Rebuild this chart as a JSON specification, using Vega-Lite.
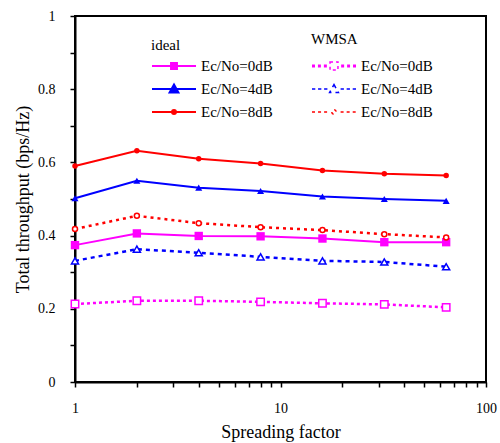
{
  "$schema": "https://vega.github.io/schema/vega-lite/v6.json",
  "width": 411,
  "height": 366,
  "autosize": {"type": "none"},
  "padding": {"left": 75, "top": 16, "right": 14, "bottom": 61},
  "background": "white",
  "config": {
    "view": {"stroke": "black", "strokeWidth": 2},
    "font": "Liberation Serif",
    "axis": {"grid": false, "domain": true, "domainColor": "black", "domainWidth": 2, "zindex": 1, "ticks": true, "tickColor": "black", "tickWidth": 1.5, "tickOpacity": 1, "labelColor": "black", "titleColor": "black", "labelFont": "Liberation Serif", "titleFont": "Liberation Serif", "labelFontSize": 14, "titleFontSize": 18, "titleFontWeight": "normal"},
    "legend": {"labelFont": "Liberation Serif", "titleFont": "Liberation Serif", "labelFontSize": 15, "titleFontSize": 15, "titleFontWeight": "normal", "labelColor": "black", "titleColor": "black"}
  },
  "data": {"values": [
    {"method": "ideal", "snr": "Ec/No=0dB", "sf": 1, "tp": 0.374},
    {"method": "ideal", "snr": "Ec/No=0dB", "sf": 2, "tp": 0.406},
    {"method": "ideal", "snr": "Ec/No=0dB", "sf": 4, "tp": 0.399},
    {"method": "ideal", "snr": "Ec/No=0dB", "sf": 8, "tp": 0.398},
    {"method": "ideal", "snr": "Ec/No=0dB", "sf": 16, "tp": 0.392},
    {"method": "ideal", "snr": "Ec/No=0dB", "sf": 32, "tp": 0.382},
    {"method": "ideal", "snr": "Ec/No=0dB", "sf": 64, "tp": 0.382},
    {"method": "ideal", "snr": "Ec/No=4dB", "sf": 1, "tp": 0.502},
    {"method": "ideal", "snr": "Ec/No=4dB", "sf": 2, "tp": 0.550},
    {"method": "ideal", "snr": "Ec/No=4dB", "sf": 4, "tp": 0.531},
    {"method": "ideal", "snr": "Ec/No=4dB", "sf": 8, "tp": 0.522},
    {"method": "ideal", "snr": "Ec/No=4dB", "sf": 16, "tp": 0.507},
    {"method": "ideal", "snr": "Ec/No=4dB", "sf": 32, "tp": 0.500},
    {"method": "ideal", "snr": "Ec/No=4dB", "sf": 64, "tp": 0.495},
    {"method": "ideal", "snr": "Ec/No=8dB", "sf": 1, "tp": 0.590},
    {"method": "ideal", "snr": "Ec/No=8dB", "sf": 2, "tp": 0.632},
    {"method": "ideal", "snr": "Ec/No=8dB", "sf": 4, "tp": 0.610},
    {"method": "ideal", "snr": "Ec/No=8dB", "sf": 8, "tp": 0.597},
    {"method": "ideal", "snr": "Ec/No=8dB", "sf": 16, "tp": 0.578},
    {"method": "ideal", "snr": "Ec/No=8dB", "sf": 32, "tp": 0.569},
    {"method": "ideal", "snr": "Ec/No=8dB", "sf": 64, "tp": 0.564},
    {"method": "WMSA", "snr": "Ec/No=0dB", "sf": 1, "tp": 0.213},
    {"method": "WMSA", "snr": "Ec/No=0dB", "sf": 2, "tp": 0.222},
    {"method": "WMSA", "snr": "Ec/No=0dB", "sf": 4, "tp": 0.222},
    {"method": "WMSA", "snr": "Ec/No=0dB", "sf": 8, "tp": 0.219},
    {"method": "WMSA", "snr": "Ec/No=0dB", "sf": 16, "tp": 0.215},
    {"method": "WMSA", "snr": "Ec/No=0dB", "sf": 32, "tp": 0.212},
    {"method": "WMSA", "snr": "Ec/No=0dB", "sf": 64, "tp": 0.204},
    {"method": "WMSA", "snr": "Ec/No=4dB", "sf": 1, "tp": 0.331},
    {"method": "WMSA", "snr": "Ec/No=4dB", "sf": 2, "tp": 0.363},
    {"method": "WMSA", "snr": "Ec/No=4dB", "sf": 4, "tp": 0.353},
    {"method": "WMSA", "snr": "Ec/No=4dB", "sf": 8, "tp": 0.342},
    {"method": "WMSA", "snr": "Ec/No=4dB", "sf": 16, "tp": 0.331},
    {"method": "WMSA", "snr": "Ec/No=4dB", "sf": 32, "tp": 0.328},
    {"method": "WMSA", "snr": "Ec/No=4dB", "sf": 64, "tp": 0.315},
    {"method": "WMSA", "snr": "Ec/No=8dB", "sf": 1, "tp": 0.418},
    {"method": "WMSA", "snr": "Ec/No=8dB", "sf": 2, "tp": 0.454},
    {"method": "WMSA", "snr": "Ec/No=8dB", "sf": 4, "tp": 0.434},
    {"method": "WMSA", "snr": "Ec/No=8dB", "sf": 8, "tp": 0.423},
    {"method": "WMSA", "snr": "Ec/No=8dB", "sf": 16, "tp": 0.415},
    {"method": "WMSA", "snr": "Ec/No=8dB", "sf": 32, "tp": 0.404},
    {"method": "WMSA", "snr": "Ec/No=8dB", "sf": 64, "tp": 0.395}
  ]},
  "encoding": {
    "x": {"field": "sf", "type": "quantitative",
      "scale": {"type": "log", "domain": [1, 100], "nice": false},
      "axis": {"title": "Spreading factor", "values": [1,2,3,4,5,6,7,8,9,10,20,30,40,50,60,70,80,90,100], "labelExpr": "(datum.value == 1 || datum.value == 10 || datum.value == 100) ? format(datum.value, 'd') : ''", "tickSize": 5, "labelPadding": 14, "titlePadding": 8, "labelFlush": false, "labelOverlap": false}},
    "y": {"field": "tp", "type": "quantitative",
      "scale": {"domain": [0, 1], "nice": false},
      "axis": {"title": "Total throughput (bps/Hz)", "values": [0,0.1,0.2,0.3,0.4,0.5,0.6,0.7,0.8,0.9,1], "labelExpr": "(round(datum.value*10) % 2 == 0) ? format(datum.value, '~g') : ''", "tickSize": 5, "labelPadding": 15, "titlePadding": 5, "labelFlush": false, "labelOverlap": false}}
  },
  "layer": [
    {
      "transform": [{"filter": "datum.method === 'ideal'"}],
      "encoding": {
        "color": {"field": "snr", "type": "nominal", "scale": {"domain": ["Ec/No=0dB", "Ec/No=4dB", "Ec/No=8dB"], "range": ["#ff00ff", "#0000ff", "#ff0000"]},
          "legend": {"title": "ideal", "orient": "none", "legendX": 76, "legendY": 22, "titlePadding": 1, "symbolSize": 484, "labelOffset": 26, "rowPadding": 3, "symbolStrokeWidth": 2, "symbolOpacity": 1}}
      },
      "layer": [
        {"mark": {"type": "line", "strokeWidth": 2}},
        {"transform": [{"filter": "datum.snr === 'Ec/No=0dB'"}],
          "mark": {"type": "point", "shape": "square", "filled": true, "opacity": 1, "size": 70}},
        {"transform": [{"filter": "datum.snr === 'Ec/No=4dB'"}],
          "mark": {"type": "point", "shape": "triangle-up", "filled": true, "opacity": 1, "size": 50}},
        {"transform": [{"filter": "datum.snr === 'Ec/No=8dB'"}],
          "mark": {"type": "point", "shape": "circle", "filled": true, "opacity": 1, "size": 30}},
        {"transform": [{"filter": "false"}],
          "mark": {"type": "point", "filled": false, "opacity": 1, "strokeWidth": 2},
          "encoding": {
            "shape": {"field": "snr", "type": "nominal",
              "scale": {"domain": ["Ec/No=0dB", "Ec/No=4dB", "Ec/No=8dB"], "range": [
                "M-1,0H3M0.64,-0.27H1.36M0.64,-0.09H1.36M0.64,0.09H1.36M0.64,0.27H1.36",
                "M-1,0H3M1,-0.4L1.4,0.32H0.6ZM0.85,-0.13H1.15M0.75,0.05H1.25M0.65,0.23H1.35",
                "M-1,0H3M0.82,0A0.18,0.18,0,1,0,1.18,0A0.18,0.18,0,1,0,0.82,0Z"
              ]},
              "legend": {"title": "ideal", "orient": "none", "legendX": 76, "legendY": 22, "titlePadding": 1, "symbolSize": 484, "labelOffset": 26, "rowPadding": 3, "symbolStrokeWidth": 2, "symbolOpacity": 1}}
          }}
      ]
    },
    {
      "transform": [{"filter": "datum.method === 'WMSA'"}],
      "encoding": {
        "color": {"field": "snr", "type": "nominal", "scale": {"domain": ["Ec/No=0dB", "Ec/No=4dB", "Ec/No=8dB"], "range": ["#ff00ff", "#0000ff", "#ff0000"]},
          "legend": {"title": "WMSA", "orient": "none", "legendX": 236, "legendY": 16, "titlePadding": 7, "symbolSize": 484, "labelOffset": 26, "rowPadding": 3, "symbolStrokeWidth": 1.5, "symbolOpacity": 1}}
      },
      "layer": [
        {"mark": {"type": "line", "strokeWidth": 2.5},
          "encoding": {
            "strokeDash": {"field": "snr", "type": "nominal", "scale": {"domain": ["Ec/No=0dB", "Ec/No=4dB", "Ec/No=8dB"], "range": [[3, 3], [4, 4], [3, 4]]}, "legend": null}
          }},
        {"transform": [{"filter": "datum.snr === 'Ec/No=0dB'"}],
          "mark": {"type": "point", "shape": "square", "filled": false, "fill": "white", "strokeWidth": 1.5, "opacity": 1, "size": 55}},
        {"transform": [{"filter": "datum.snr === 'Ec/No=4dB'"}],
          "mark": {"type": "point", "shape": "triangle-up", "filled": false, "fill": "white", "strokeWidth": 1.5, "opacity": 1, "size": 50}},
        {"transform": [{"filter": "datum.snr === 'Ec/No=8dB'"}],
          "mark": {"type": "point", "shape": "circle", "filled": false, "fill": "white", "strokeWidth": 1.5, "opacity": 1, "size": 25}},
        {"transform": [{"filter": "false"}],
          "mark": {"type": "point", "filled": false, "opacity": 1, "strokeWidth": 1.5},
          "encoding": {
            "shape": {"field": "snr", "type": "nominal",
              "scale": {"domain": ["Ec/No=0dB", "Ec/No=4dB", "Ec/No=8dB"], "range": [
                "M-1,-0.07H-0.73M-1,0.07H-0.73M-0.46,-0.07H-0.19M-0.46,0.07H-0.19M0.08,-0.07H0.35M0.08,0.07H0.35M1.65,-0.07H1.92M1.65,0.07H1.92M2.19,-0.07H2.46M2.19,0.07H2.46M2.73,-0.07H3M2.73,0.07H3M0.64,-0.36H1.36V0.36H0.64Z",
                "M-1,0H-0.7M-0.45,0H-0.15M0.1,0H0.4M1.6,0H1.9M2.15,0H2.45M2.7,0H3M1,-0.4L1.4,0.32H0.6Z",
                "M-1,0H-0.7M-0.45,0H-0.15M0.1,0H0.4M1.6,0H1.9M2.15,0H2.45M2.7,0H3M0.8,0A0.2,0.2,0,1,0,1.2,0A0.2,0.2,0,1,0,0.8,0Z"
              ]},
              "legend": {"title": "WMSA", "orient": "none", "legendX": 236, "legendY": 16, "titlePadding": 7, "symbolSize": 484, "labelOffset": 26, "rowPadding": 3, "symbolStrokeWidth": 1.5, "symbolOpacity": 1}}
          }}
      ]
    }
  ],
  "resolve": {"scale": {"color": "independent", "shape": "independent", "strokeDash": "independent"}}
}
